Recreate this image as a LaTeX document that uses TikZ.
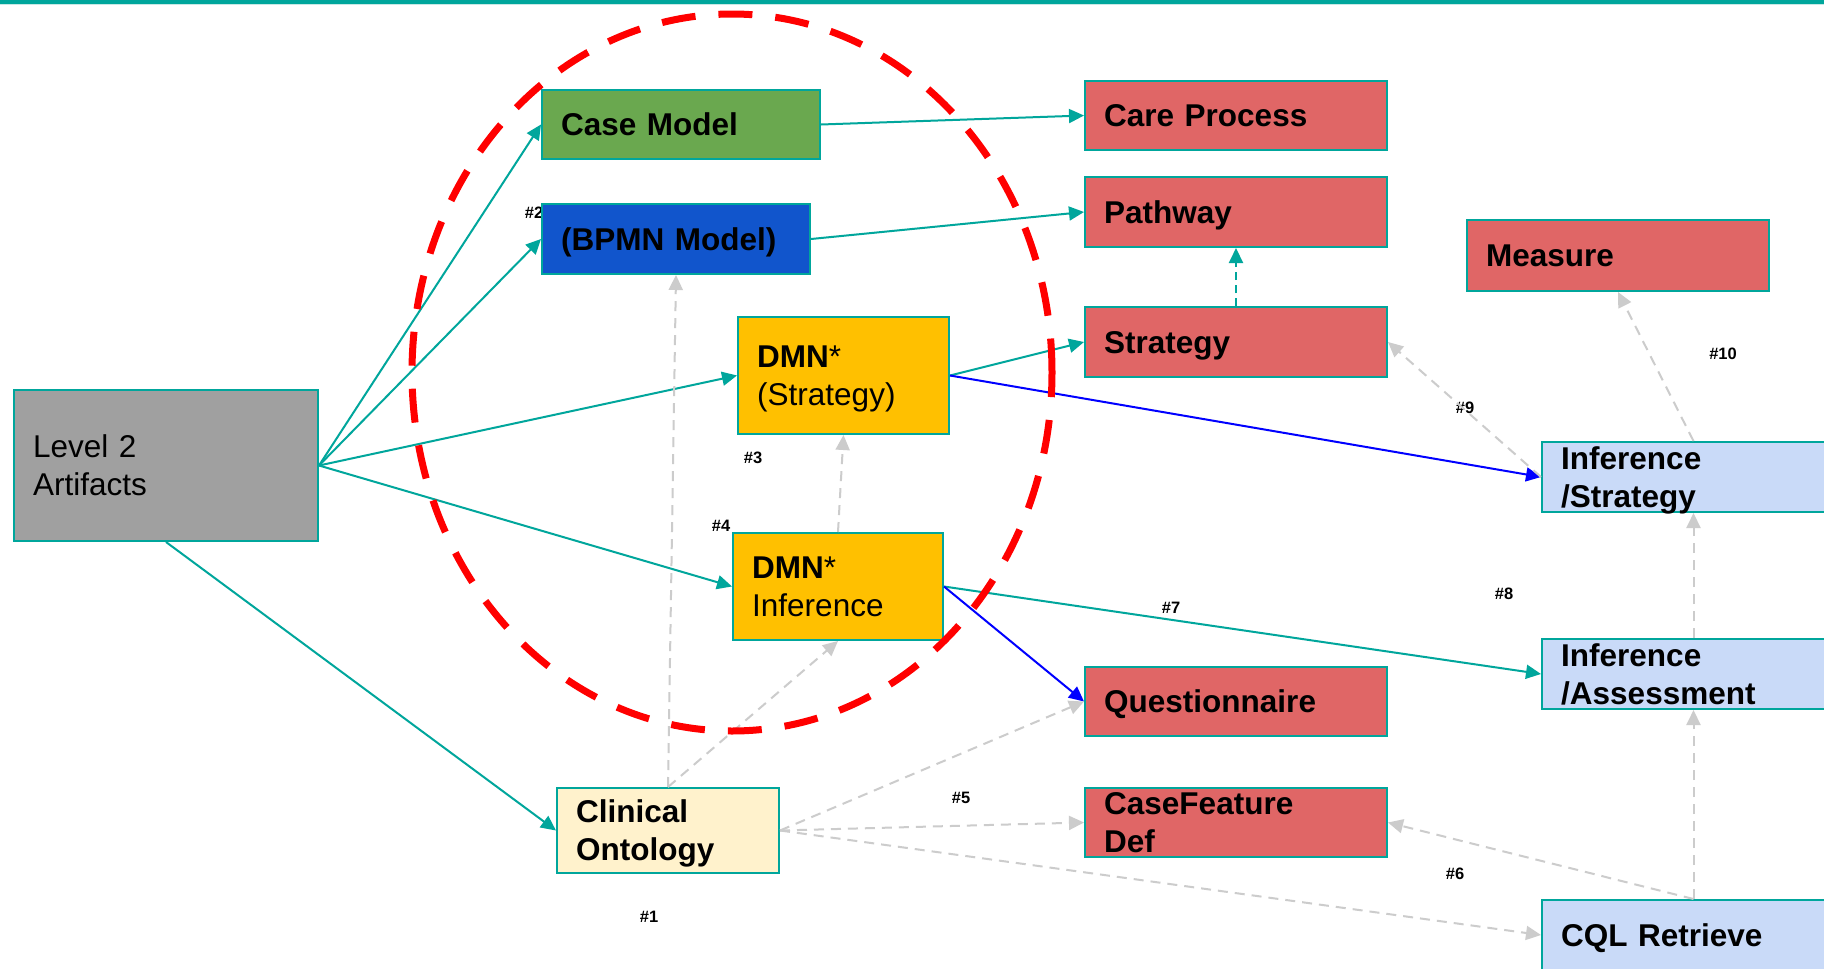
\documentclass[tikz,border=0pt]{standalone}
\usepackage{fontspec}
\setmainfont{Liberation Sans}
\usetikzlibrary{arrows.meta}

\definecolor{linkteal}{RGB}{0,166,156}
\definecolor{paleteal}{RGB}{200,232,229}
\definecolor{boxgray}{RGB}{160,160,160}
\definecolor{boxgreen}{RGB}{106,168,79}
\definecolor{boxblue}{RGB}{17,85,204}
\definecolor{boxamber}{RGB}{255,192,0}
\definecolor{boxcream}{RGB}{255,242,204}
\definecolor{boxred}{RGB}{224,102,102}
\definecolor{boxsky}{RGB}{201,218,248}
\definecolor{linkgray}{RGB}{204,204,204}
\definecolor{linkblue}{RGB}{0,0,255}
\definecolor{ringred}{RGB}{255,0,0}

\newcommand\diagfont{\fontsize{31.5pt}{37.8pt}\selectfont}
\newcommand\tagfont{\fontsize{16.5pt}{20pt}\selectfont\bfseries}

\begin{document}
\begin{tikzpicture}[x=1pt,y=-1pt,
  box/.style 2 args={draw=linkteal, line width=2pt, inner sep=0pt,
    minimum width=#1pt, minimum height=#2pt},
  one/.style={anchor=west, inner sep=0pt, text width=280pt, align=left,
    text height=22.5pt, text depth=0pt, font=\diagfont},
  two/.style={one, text depth=37.8pt},
  tag/.style={inner sep=0pt, font=\tagfont},
  tip/.style={-{Triangle[length=15pt,width=14pt]}},
  tline/.style={draw=linkteal, line width=2pt, tip},
  bline/.style={draw=linkblue, line width=2pt, tip},
  gline/.style={draw=linkgray, line width=2pt, dash pattern=on 10pt off 7pt, tip},
]
\clip (0,0) rectangle (1824,969);
\fill[white] (0,0) rectangle (1824,969);

% header rule
\fill[linkteal] (0,0) rectangle (1824,3.5);
\fill[paleteal] (0,3.5) rectangle (1824,5);

% step numbers
\node[tag] (n1) at (649,917) {\#1};
\node[tag] (n2) at (534,213) {\#2};
\node[tag] (n3) at (753,458) {\#3};
\node[tag] (n4) at (721,526) {\#4};
\node[tag] (n5) at (961,798) {\#5};
\node[tag] (n6) at (1455,874) {\#6};
\node[tag] (n7) at (1171,608) {\#7};
\node[tag] (n8) at (1504,594) {\#8};
\node[tag] (n9) at (1465,408) {\#9};
\node[tag] (n10) at (1723,354) {\#10};

% artifact boxes
\node[box={304}{151}, fill=boxgray]  (l2) at (166,465.5) {};
\node[box={278}{69},  fill=boxgreen] (cm) at (681,124.5) {};
\node[box={268}{70},  fill=boxblue]  (bp) at (676,239) {};
\node[box={211}{117}, fill=boxamber] (ds) at (843.5,375.5) {};
\node[box={210}{107}, fill=boxamber] (di) at (838,586.5) {};
\node[box={222}{85},  fill=boxcream] (co) at (668,830.5) {};
\node[box={302}{69},  fill=boxred]   (cp) at (1236,115.5) {};
\node[box={302}{70},  fill=boxred]   (pw) at (1236,212) {};
\node[box={302}{70},  fill=boxred]   (st) at (1236,342) {};
\node[box={302}{71},  fill=boxred]   (me) at (1618,255.5) {};
\node[box={302}{69},  fill=boxred]   (qu) at (1236,701.5) {};
\node[box={302}{69},  fill=boxred]   (cf) at (1236,822.5) {};
\node[box={303}{70},  fill=boxsky]   (is) at (1693.5,477) {};
\node[box={303}{70},  fill=boxsky]   (ia) at (1693.5,674) {};
\node[box={303}{70},  fill=boxsky]   (cq) at (1693.5,935) {};

% box captions
\node[two] at ([xshift=20pt]l2.west) {Level 2\\Artifacts};
\node[one] at ([xshift=20pt]cm.west) {\bfseries Case Model};
\node[one] at ([xshift=20pt]bp.west) {\bfseries (BPMN Model)};
\node[two] at ([xshift=20pt]ds.west) {\textbf{DMN}*\\(Strategy)};
\node[two] at ([xshift=20pt]di.west) {\textbf{DMN}*\\Inference};
\node[two] at ([xshift=20pt]co.west) {\bfseries Clinical\\Ontology};
\node[one] at ([xshift=20pt]cp.west) {\bfseries Care Process};
\node[one] at ([xshift=20pt]pw.west) {\bfseries Pathway};
\node[one] at ([xshift=20pt]st.west) {\bfseries Strategy};
\node[one] at ([xshift=20pt]me.west) {\bfseries Measure};
\node[one] at ([xshift=20pt]qu.west) {\bfseries Questionnaire};
\node[two] at ([xshift=20pt]cf.west) {\bfseries CaseFeature\\Def};
\node[two] at ([xshift=20pt]is.west) {\bfseries Inference\\/Strategy};
\node[two] at ([xshift=20pt]ia.west) {\bfseries Inference\\/Assessment};
\node[one] at ([xshift=20pt]cq.west) {\bfseries CQL Retrieve};

% derivation links
\draw[tline] (l2.east) -- (cm.west);
\draw[tline] (l2.east) -- (bp.west);
\draw[tline] (l2.east) -- (ds.west);
\draw[tline] (l2.east) -- (di.west);
\draw[tline] (l2.south) -- (co.west);
\draw[tline] (cm.east) -- (cp.west);
\draw[tline] (bp.east) -- (pw.west);
\draw[tline] (ds.east) -- (st.west);
\draw[bline] (ds.east) -- (is.west);
\draw[tline] (di.east) -- (ia.west);
\draw[bline] (di.east) -- (qu.west);
\draw[tline, dash pattern=on 8pt off 5pt] (st.north) -- (pw.south);

% dependency links
\draw[gline] (co.north) -- (bp.south);
\draw[gline] (co.north) -- (di.south);
\draw[gline] (di.north) -- (ds.south);
\draw[gline] (co.east) -- (qu.west);
\draw[gline] (co.east) -- (cf.west);
\draw[gline] (co.east) -- (cq.west);
\draw[gline] (cq.north) -- (cf.east);
\draw[gline] (cq.north) -- (ia.south);
\draw[gline] (ia.north) -- (is.south);
\draw[gline] (is.north) -- (me.south);
\draw[gline] (is.west) -- (st.east);

% highlight ring
\draw[ringred, line width=7pt, dash pattern=on 34pt off 23pt]
  (732,372.5) ellipse [x radius=320pt, y radius=358.5pt];
\end{tikzpicture}
\end{document}
